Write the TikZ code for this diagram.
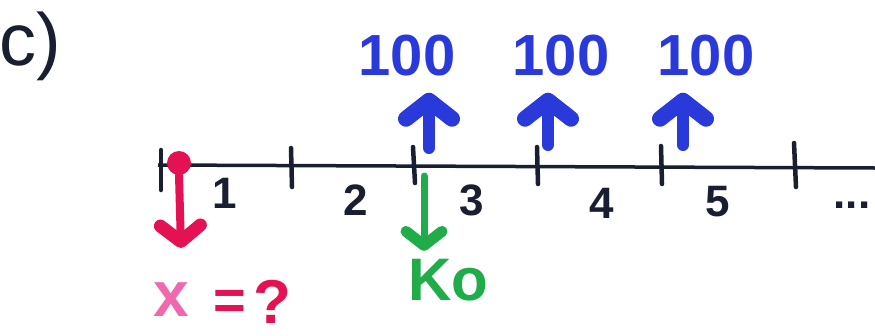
\documentclass[tikz,border=0pt]{standalone}
\usepackage{fontspec}
\setmainfont{Liberation Sans}
\usetikzlibrary{arrows.meta}
\definecolor{ink}{RGB}{25,30,48}
\definecolor{mblue}{RGB}{42,58,218}
\definecolor{mred}{RGB}{228,18,82}
\definecolor{mpink}{RGB}{240,105,175}
\definecolor{mgreen}{RGB}{32,172,72}
\tikzset{
  tickmark/.style={ink, line width=4.5pt, line cap=round},
  numlabel/.style={ink, anchor=base, inner sep=0pt, font=\fontsize{44}{50}\selectfont\bfseries},
  hundred/.style={mblue, inner sep=0pt, font=\fontsize{58}{60}\selectfont\bfseries},
  uparrow/.style={mblue, line width=12pt, line cap=round, -{Straight Barb[length=18pt,width=46pt,line width=16pt,round]}},
  redarrow/.style={mred, line width=8pt, line cap=round, -{Straight Barb[length=16pt,width=40pt,line width=13pt,round]}},
  greenarrow/.style={mgreen, line width=7pt, line cap=round, -{Straight Barb[length=14pt,width=36pt,line width=11pt,round]}},
}
\begin{document}
\begin{tikzpicture}[x=1pt,y=-1pt]
\useasboundingbox (0,0) rectangle (875,335);
% title
\node[ink, font=\fontsize{74}{76}\selectfont] (title) at (30,46) {c)};
% number line
\coordinate (lstart) at (158,165);
\coordinate (lend) at (875,168);
\draw[ink, line width=3.5pt] (lstart) -- (lend);
\coordinate (t0a) at (161,150); \coordinate (t0b) at (161,190);
\coordinate (t1a) at (291,148); \coordinate (t1b) at (292,187);
\coordinate (t2a) at (413,147); \coordinate (t2b) at (415,183);
\coordinate (t3a) at (537,147); \coordinate (t3b) at (538,184);
\coordinate (t4a) at (661,146); \coordinate (t4b) at (662,184);
\coordinate (t5a) at (794,143); \coordinate (t5b) at (796,187);
\draw[tickmark] (t0a) -- (t0b);
\draw[tickmark] (t1a) -- (t1b);
\draw[tickmark] (t2a) -- (t2b);
\draw[tickmark] (t3a) -- (t3b);
\draw[tickmark] (t4a) -- (t4b);
\draw[tickmark] (t5a) -- (t5b);
% interval numbers
\node[numlabel] (n1) at (225,208) {1};
\node[numlabel] (n2) at (356,215) {2};
\node[numlabel] (n3) at (472,215) {3};
\node[numlabel] (n4) at (602,218) {4};
\node[numlabel] (n5) at (718,216) {5};
\node[numlabel] (ndots) at (852,208) {...};
% red start point and arrow
\node[circle, fill=mred, minimum size=24pt, inner sep=0pt] (dot) at (179,163) {};
\coordinate (rtip) at (181,248);
\draw[redarrow] (dot.south) -- (rtip);
\node[mpink, inner sep=0pt, font=\fontsize{64}{64}\selectfont\bfseries] (xv) at (171,300) {x};
\node[mred, inner sep=0pt, font=\fontsize{56}{60}\selectfont\bfseries] (eq) at (230,305) {=};
\node[mred, inner sep=0pt, font=\fontsize{62}{62}\selectfont\bfseries] (qm) at (272,302) {?};
% green arrow and Ko
\node[mgreen, inner sep=0pt, font=\fontsize{60}{60}\selectfont\bfseries] (ko) at (448,280) {Ko};
\coordinate (gstart) at (424,176);
\draw[greenarrow, shorten >=8pt] (gstart) -- (gstart |- ko.north);
% blue payments
\node[hundred] (h1) at (407,56) {100};
\node[hundred] (h2) at (561,56) {100};
\node[hundred] (h3) at (706,56) {100};
\coordinate (b1) at (429,148);
\coordinate (b2) at (548,145);
\coordinate (b3) at (683,145);
\draw[uparrow, shorten >=16pt] (b1) -- (b1 |- h1.south);
\draw[uparrow, shorten >=16pt] (b2) -- (b2 |- h2.south);
\draw[uparrow, shorten >=16pt] (b3) -- (b3 |- h3.south);
\end{tikzpicture}
\end{document}
